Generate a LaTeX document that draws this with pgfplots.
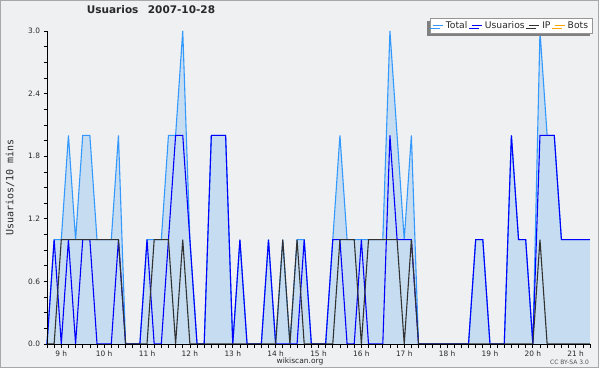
\documentclass[border=0pt]{standalone}
\usepackage{fontspec}
\setmainfont{DejaVu Sans}
\setmonofont{DejaVu Sans Mono}
\usepackage{pgfplots}
\pgfplotsset{compat=1.18}
\usepackage{pgfplotstable}
\usetikzlibrary{shadows}
\definecolor{bgc}{RGB}{239,240,242}
\definecolor{framec}{RGB}{168,168,168}
\definecolor{fillc}{RGB}{188,215,240}
\definecolor{totc}{RGB}{51,153,255}
\definecolor{usuc}{RGB}{0,0,255}
\definecolor{ipc}{RGB}{50,50,50}
\definecolor{botc}{RGB}{255,165,0}
\definecolor{gridc}{RGB}{200,200,200}
\definecolor{legc}{RGB}{150,150,150}
\definecolor{shadc}{RGB}{128,128,128}
\definecolor{txtc}{RGB}{40,40,40}
\pgfplotsset{
  layers/mylayers/.define layer set={
    axis background,axis grid,main,axis ticks,axis lines,
    axis tick labels,axis descriptions,axis foreground
  }{/pgfplots/layers/standard},
}
\pgfplotstableread{
i usu ip tot bots
0 0 0 0 0
1 1 0 1 0
2 0 1 1 0
3 1 1 2 0
4 0 1 1 0
5 1 1 2 0
6 1 1 2 0
7 0 1 1 0
8 0 1 1 0
9 0 1 1 0
10 1 1 2 0
11 0 0 0 0
12 0 0 0 0
13 0 0 0 0
14 1 0 1 0
15 0 1 1 0
16 0 1 1 0
17 1 1 2 0
18 2 0 2 0
19 2 1 3 0
20 1 0 1 0
21 0 0 0 0
22 0 0 0 0
23 2 0 2 0
24 2 0 2 0
25 2 0 2 0
26 0 0 0 0
27 1 0 1 0
28 0 0 0 0
29 0 0 0 0
30 0 0 0 0
31 1 0 1 0
32 0 0 0 0
33 0 1 1 0
34 0 0 0 0
35 0 1 1 0
36 1 0 1 0
37 0 0 0 0
38 0 0 0 0
39 0 0 0 0
40 1 0 1 0
41 1 1 2 0
42 0 1 1 0
43 0 1 1 0
44 1 0 1 0
45 0 1 1 0
46 0 1 1 0
47 0 1 1 0
48 2 1 3 0
49 1 1 2 0
50 1 0 1 0
51 1 1 2 0
52 0 0 0 0
53 0 0 0 0
54 0 0 0 0
55 0 0 0 0
56 0 0 0 0
57 0 0 0 0
58 0 0 0 0
59 0 0 0 0
60 1 0 1 0
61 1 0 1 0
62 0 0 0 0
63 0 0 0 0
64 0 0 0 0
65 2 0 2 0
66 1 0 1 0
67 1 0 1 0
68 0 0 0 0
69 2 1 3 0
70 2 0 2 0
71 2 0 2 0
72 1 0 1 0
73 1 0 1 0
74 1 0 1 0
75 1 0 1 0
76 1 0 1 0
}\data
\begin{document}
\begin{tikzpicture}
\fill[white] (0pt,0pt) rectangle (600pt,370pt);
\draw[framec, fill=bgc, line width=0.8pt] (0.5pt,2.5pt) rectangle (598pt,369.5pt);
\begin{axis}[
  set layers=mylayers,
  at={(47pt,26pt)}, anchor=south west,
  scale only axis, width=543pt, height=313pt,
  xmin=0, xmax=76, ymin=0, ymax=3,
  clip=false,
  axis lines*=left,
  axis line style={black, line width=0.8pt},
  tick style={black, line width=0.7pt},
  tick align=outside,
  major tick length=3.5pt, minor tick length=3.5pt,
  xtick={2,8,14,20,26,32,38,44,50,56,62,68,74},
  xticklabels={9 h,10 h,11 h,12 h,13 h,14 h,15 h,16 h,17 h,18 h,19 h,20 h,21 h},
  minor xtick={0,1,...,76},
  ytick={0,0.6,1.2,1.8,2.4,3.0},
  minor y tick num=3,
  yticklabel={\pgfmathprintnumber[fixed,fixed zerofill,precision=1]{\tick}},
  /pgf/number format/assume math mode=true,
  ticklabel style={font=\fontsize{7.4}{8.5}\selectfont, text=txtc},
  ymajorgrids,
  grid style={gridc, line width=0.7pt},
  title={Usuarios\hspace{0.9em}2007-10-28},
  title style={at={(axis description cs:0.1915,1.048)}, anchor=center,
    font=\fontsize{10.5}{12}\selectfont\bfseries, text=txtc},
  ylabel={Usuarios/10 mins},
  ylabel style={at={(axis description cs:-0.068,0.5)}, anchor=center,
    font=\ttfamily\fontsize{10}{11}\selectfont, text=txtc},
  legend columns=4,
  legend image code/.code={\draw[#1] (0pt,0pt) -- (10pt,0pt);},
  legend style={at={(axis description cs:1.0055,1.0415)}, anchor=north east,
    draw=legc, fill=white, line width=0.8pt,
    font=\fontsize{9.2}{10.5}\selectfont, text=txtc,
    inner xsep=2pt, inner ysep=1pt,
    drop shadow={shadow xshift=-3pt, shadow yshift=-3pt, fill=shadc, opacity=1},
    /tikz/every even column/.append style={column sep=1.5pt},
    nodes={inner xsep=2.5pt, inner ysep=2pt}},
]
\addplot[draw=none, fill=fillc, fill opacity=0.8, forget plot] table[x=i, y=tot] {\data} \closedcycle;
\addplot[totc, line width=1.1pt] table[x=i, y=tot] {\data};
\addlegendentry{Total}
\addplot[usuc, line width=1.1pt] table[x=i, y=usu] {\data};
\addlegendentry{Usuarios}
\addplot[ipc, line width=1.1pt] table[x=i, y=ip] {\data};
\addlegendentry{IP}
\addplot[botc, line width=0.7pt] table[x=i, y=bots] {\data};
\addlegendentry{Bots}
\end{axis}
\node[font=\fontsize{7.5}{9}\selectfont, text=txtc] at (300pt,9pt) {wikiscan.org};
\node[font=\fontsize{6}{7}\selectfont, text=txtc!80] at (569.5pt,7.3pt) {CC BY-SA 3.0};
\pgfresetboundingbox
\useasboundingbox (0pt,0pt) rectangle (600pt,370pt);
\end{tikzpicture}
\end{document}
